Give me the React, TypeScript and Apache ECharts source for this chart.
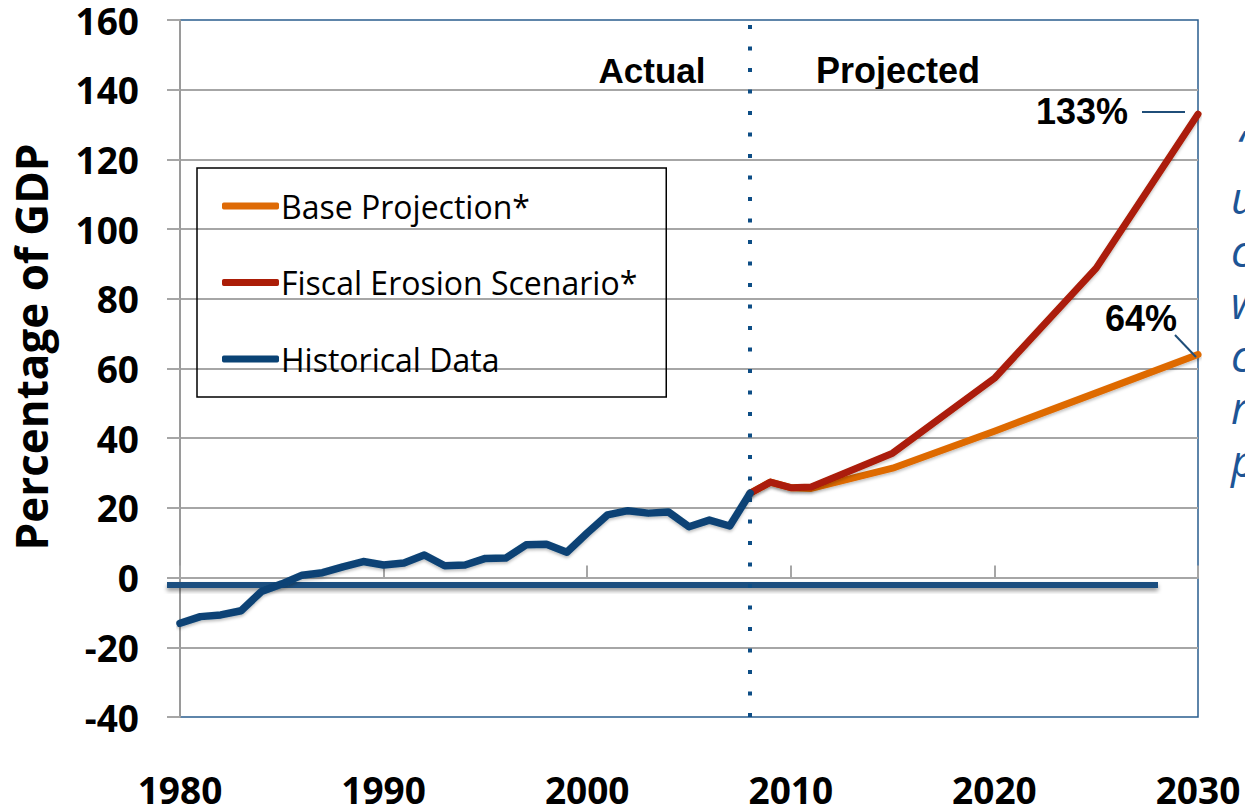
import React, { useEffect, useRef } from "react";
import * as echarts from "echarts";

const histYears = [1980, 1981, 1982, 1983, 1984, 1985, 1986, 1987, 1988, 1989, 1990, 1991, 1992, 1993, 1994, 1995, 1996, 1997, 1998, 1999, 2000, 2001, 2002, 2003, 2004, 2005, 2006, 2007, 2008];
const histValues = [-13.1, -11.2, -10.7, -9.5, -4.0, -1.8, 0.7, 1.4, 3.1, 4.6, 3.6, 4.2, 6.5, 3.4, 3.6, 5.5, 5.6, 9.4, 9.6, 7.3, 12.8, 18.0, 19.2, 18.5, 18.8, 14.6, 16.5, 14.8, 24.2];
const projYears = [2008, 2009, 2010, 2011, 2015, 2020, 2025, 2030];
const baseValues = [24.2, 27.4, 25.8, 25.6, 31.4, 42.0, 53.0, 64];
const fiscalValues = [24.2, 27.4, 25.8, 26.0, 35.7, 57.2, 88.8, 133];
const seriesNames = ["Base Projection*", "Fiscal Erosion Scenario*", "Historical Data"];
const dividerYear = 2008;
const sideLetters = ["\u201C", "u", "c", "w", "c", "r", "p"];

const ORANGE = "#DE6A06";
const RED = "#AB1D07";
const BLUE = "#0A4375";
const GRID_GRAY = "#a6a6a6";

const pairs = (xs: number[], ys: number[]) => xs.map((x, i) => [x, ys[i]]);

export default function App() {
  const ref = useRef<HTMLDivElement>(null);
  useEffect(() => {
    if (!ref.current) return;
    const chart = echarts.init(ref.current, null, { renderer: "svg" });
    const lineShadow = { shadowColor: "rgba(0,0,0,0.25)", shadowBlur: 3, shadowOffsetY: 2 };
    const option: any = {
      animation: false,
      grid: {
        left: 180,
        right: 47,
        top: 20,
        bottom: 88,
        outerBoundsMode: "none",
        containLabel: false,
        show: true,
        borderColor: "#2a5d8f",
        borderWidth: 1.5,
      },
      legend: {
        data: seriesNames,
        orient: "vertical",
        left: 197,
        top: 168,
        padding: [22, 29, 22, 25],
        itemGap: 44.5,
        itemWidth: 57,
        itemHeight: 7,
        icon: "roundRect",
        borderColor: "#000",
        borderWidth: 1.5,
        textStyle: { fontFamily: "Open Sans", fontSize: 32, color: "#000", padding: [0, 0, 0, -3] },
      },
      xAxis: [
        {
          type: "value",
          min: 1980,
          max: 2030,
          interval: 10,
          position: "bottom",
          axisLine: { show: false, onZero: false },
          axisTick: { show: false },
          splitLine: { show: false },
          axisLabel: {
            margin: 54,
            formatter: (v: number) => String(v),
            fontFamily: "Open Sans",
            fontWeight: "bold",
            fontSize: 37,
            color: "#000",
          },
        },
        {
          type: "value",
          min: 1980,
          max: 2030,
          interval: 10,
          position: "bottom",
          axisLine: { show: true, onZero: true, lineStyle: { color: GRID_GRAY, width: 2 } },
          axisTick: { show: true, inside: true, length: 12, lineStyle: { color: GRID_GRAY, width: 2 } },
          axisLabel: { show: false },
          splitLine: { show: false },
        },
      ],
      yAxis: {
        type: "value",
        min: -40,
        max: 160,
        interval: 20,
        axisLine: { show: true, onZero: false, lineStyle: { color: "#9a9a9a", width: 2 } },
        axisTick: { show: true, length: 13, lineStyle: { color: GRID_GRAY, width: 2 } },
        splitLine: { show: true, showMinLine: false, showMaxLine: false, lineStyle: { color: GRID_GRAY, width: 2 } },
        axisLabel: {
          margin: 41,
          padding: [6, 0, 0, 0],
          fontFamily: "Open Sans",
          fontWeight: "bold",
          fontSize: 37,
          color: "#000",
        },
      },
      series: [
        {
          name: seriesNames[0],
          type: "line",
          data: pairs(projYears, baseValues),
          symbol: "none",
          z: 3,
          lineStyle: { color: ORANGE, width: 7, cap: "round", join: "round", ...lineShadow },
          itemStyle: { color: ORANGE },
        },
        {
          name: seriesNames[1],
          type: "line",
          data: pairs(projYears, fiscalValues),
          symbol: "none",
          z: 4,
          lineStyle: { color: RED, width: 7, cap: "round", join: "round", ...lineShadow },
          itemStyle: { color: RED },
        },
        {
          name: seriesNames[2],
          type: "line",
          data: pairs(histYears, histValues),
          symbol: "none",
          z: 5,
          lineStyle: { color: BLUE, width: 7.5, cap: "round", join: "round", ...lineShadow },
          itemStyle: { color: BLUE },
          markLine: {
            silent: true,
            symbol: "none",
            label: { show: false },
            lineStyle: { color: "#0d4d85", width: 4, type: [4, 17.5], cap: "butt" },
            data: [{ xAxis: dividerYear }],
          },
        },
      ],
      graphic: [
        {
          type: "rect",
          z: 2,
          shape: { x: 167, y: 582, width: 991, height: 6 },
          style: { fill: "#1b4f80", shadowBlur: 4, shadowColor: "rgba(0,0,0,0.4)", shadowOffsetY: 3 },
        },
        {
          type: "text",
          x: 31,
          y: 347,
          rotation: Math.PI / 2,
          style: {
            text: "Percentage of GDP",
            fontFamily: "Open Sans",
            fontWeight: "bold",
            fontSize: 44,
            fill: "#000",
            align: "center",
            verticalAlign: "middle",
          },
        },
        {
          type: "text",
          x: 652,
          y: 70,
          style: { text: "Actual", fontFamily: "Liberation Sans", fontWeight: "bold", fontSize: 35, fill: "#000", align: "center", verticalAlign: "middle" },
        },
        {
          type: "text",
          x: 898,
          y: 70,
          style: { text: "Projected", fontFamily: "Liberation Sans", fontWeight: "bold", fontSize: 36, fill: "#000", align: "center", verticalAlign: "middle" },
        },
        {
          type: "text",
          x: 1082,
          y: 111,
          style: { text: "133%", fontFamily: "Liberation Sans", fontWeight: "bold", fontSize: 36, fill: "#000", align: "center", verticalAlign: "middle" },
        },
        {
          type: "text",
          x: 1141,
          y: 318,
          style: { text: "64%", fontFamily: "Liberation Sans", fontWeight: "bold", fontSize: 36, fill: "#000", align: "center", verticalAlign: "middle" },
        },
        {
          type: "line",
          z: 6,
          shape: { x1: 1142, y1: 112, x2: 1185, y2: 112 },
          style: { stroke: "#1f4e79", lineWidth: 2 },
        },
        {
          type: "line",
          z: 6,
          shape: { x1: 1175, y1: 335, x2: 1196, y2: 357 },
          style: { stroke: "#1f4e79", lineWidth: 2 },
        },
        ...sideLetters.map((ch, i) => ({
          type: "text",
          x: i === 0 ? 1236 : 1231,
          y: 145 + i * 52.5,
          style: {
            text: ch,
            fontFamily: "Open Sans",
            fontStyle: "italic",
            fontSize: 43,
            lineHeight: 48,
            fill: "#1d5596",
            align: "left",
            verticalAlign: "middle",
          },
        })),
      ],
    };
    chart.setOption(option);
    return () => chart.dispose();
  }, []);
  return <div ref={ref} style={{ width: 1245, height: 805, position: "absolute", left: 0, top: 0, background: "#fff" }} />;
}
